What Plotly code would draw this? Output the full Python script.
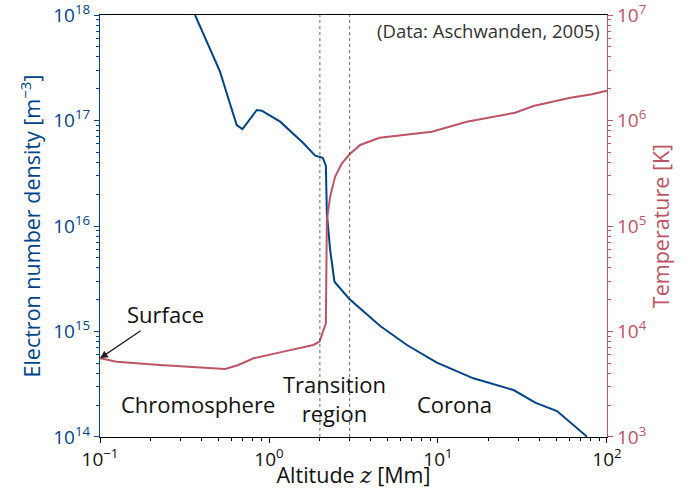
import math
import plotly.graph_objects as go

# Electron number density vs altitude
z_dens = [0.365, 0.448, 0.513, 0.562, 0.644, 0.696, 0.847, 0.906, 1.164, 1.6, 1.875,
          2.08, 2.17, 2.2, 2.3, 2.44, 3.0, 4.55, 6.55, 9.85, 16.2, 28.0, 37.6, 50.6, 76.2]
log_ne = [18.0, 17.668, 17.463, 17.258, 16.957, 16.919, 17.1, 17.093, 16.989, 16.784, 16.667,
          16.647, 16.572, 16.12, 15.773, 15.472, 15.305, 15.052, 14.872, 14.704, 14.556,
          14.445, 14.325, 14.246, 14.003]

# Temperature vs altitude
z_temp = [0.1, 0.1256, 0.226, 0.55, 0.659, 0.81, 1.216, 1.83, 1.99, 2.17, 2.2, 2.3,
          2.46, 2.7, 3.0, 3.46, 4.51, 9.2, 14.8, 28.6, 36.7, 60.7, 81.5, 100.0]
log_T = [3.746, 3.714, 3.683, 3.645, 3.683, 3.746, 3.809, 3.872, 3.904, 4.078, 5.057, 5.278,
         5.467, 5.594, 5.68, 5.768, 5.837, 5.894, 5.989, 6.074, 6.137, 6.216, 6.248, 6.282]

boundaries = [2.0, 3.0]

x_exps = [-1, 0, 1, 2]
ne_exps = [14, 15, 16, 17, 18]
T_exps = [3, 4, 5, 6, 7]

ne = [10 ** v for v in log_ne]
T = [10 ** v for v in log_T]


def pow_label(e):
    s = str(e).replace("-", "\u2212")
    return "10<sup>" + s + "</sup>"


def minor_vals(exps):
    return [m * 10 ** e for e in exps[:-1] for m in range(2, 10)]


BLUE = "#004488"
RED = "#BB5566"
FONT = "Open Sans"
TXT = "#111111"

fig = go.Figure()
fig.add_trace(go.Scatter(x=z_dens, y=ne, mode="lines", line=dict(color=BLUE, width=2),
                         yaxis="y", showlegend=False))
fig.add_trace(go.Scatter(x=z_temp, y=T, mode="lines", line=dict(color=RED, width=2),
                         yaxis="y2", showlegend=False))

for b in boundaries:
    fig.add_shape(type="line", xref="x", yref="paper", x0=b, x1=b, y0=0, y1=1,
                  line=dict(color="#444444", width=0.8, dash="dot"))

PT, PB = 15.3, 437.3
H = PB - PT


def py(p):
    return (PB - p) / H


anns = [
    dict(text="Chromosphere", x=math.log10(0.38), y=py(404)),
    dict(text="Transition<br>region", x=math.log10(2.43), y=py(399)),
    dict(text="Corona", x=math.log10(12.6), y=py(404)),
]
for a in anns:
    fig.add_annotation(xref="x", yref="paper", showarrow=False, yanchor="middle",
                       font=dict(family=FONT, size=22, color=TXT), **a)

fig.add_annotation(xref="paper", yref="paper", x=0.99, y=py(31), xanchor="right",
                   yanchor="middle", text="(Data: Aschwanden, 2005)", showarrow=False,
                   font=dict(family=FONT, size=18.5, color="#333333"))

fig.add_annotation(xref="x", yref="y2", x=math.log10(z_temp[0]), y=log_T[0],
                   text="Surface", showarrow=True, arrowhead=2, arrowsize=1.2,
                   arrowwidth=1.3, arrowcolor="#222222", ax=65, ay=-44,
                   font=dict(family=FONT, size=22, color=TXT))

common = dict(showline=True, linewidth=1.2, ticks="outside", ticklen=5, showgrid=False,
              zeroline=False, automargin=False, ticklabeloverflow="allow")

fig.update_layout(
    width=686, height=489,
    margin=dict(l=100, r=686 - 607, t=PT, b=489 - PB),
    plot_bgcolor="white", paper_bgcolor="white",
    font=dict(family=FONT, size=16),
    xaxis=dict(type="log", range=[-1.0001, 2.0001], linecolor="black", mirror=True,
               tickcolor="black",
               tickvals=[10 ** e for e in x_exps], ticktext=[pow_label(e) for e in x_exps],
               tickfont=dict(family=FONT, size=19, color=TXT),
               minor=dict(tickvals=minor_vals(x_exps), ticks="outside", ticklen=3,
                          tickcolor="black", showgrid=False),
               title=dict(text="Altitude <span style='font-family:DejaVu Serif'><i>z</i></span> [Mm]",
                          font=dict(family=FONT, size=21.5, color=TXT), standoff=4),
               **common),
    yaxis=dict(type="log", range=[13.9999, 18.0001], linecolor=BLUE, tickcolor=BLUE,
               tickvals=[10 ** e for e in ne_exps], ticktext=[pow_label(e) for e in ne_exps],
               tickfont=dict(family=FONT, size=19, color=BLUE),
               minor=dict(tickvals=minor_vals(ne_exps), ticks="outside", ticklen=3,
                          tickcolor=BLUE, showgrid=False),
               title=dict(text="Electron number density [m<sup>\u22123</sup>]",
                          font=dict(family=FONT, size=21.5, color=BLUE), standoff=6),
               **common),
    yaxis2=dict(type="log", range=[2.9999, 7.0001], overlaying="y", side="right",
                linecolor=RED, tickcolor=RED,
                tickvals=[10 ** e for e in T_exps], ticktext=[pow_label(e) for e in T_exps],
                tickfont=dict(family=FONT, size=19, color=RED),
                minor=dict(tickvals=minor_vals(T_exps), ticks="outside", ticklen=3,
                           tickcolor=RED, showgrid=False),
                title=dict(text="Temperature [K]",
                           font=dict(family=FONT, size=21.5, color=RED), standoff=6),
                **common),
)

fig.write_html("out.html")
